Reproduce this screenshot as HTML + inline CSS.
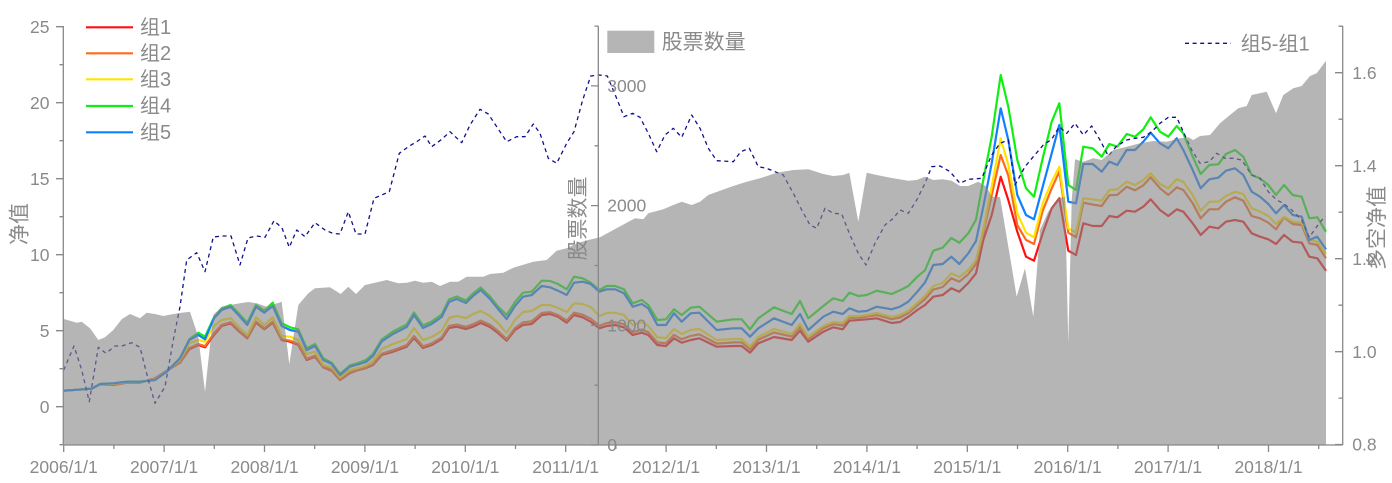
<!DOCTYPE html>
<html><head><meta charset="utf-8"><style>
html,body{margin:0;padding:0;background:#fff;}
svg{display:block;}
text{font-family:"Liberation Sans","Noto Sans CJK SC",sans-serif;fill:#8a8a8a;}
</style></head><body>
<svg width="1392" height="483" viewBox="0 0 1392 483" xmlns="http://www.w3.org/2000/svg">
<g fill="none" stroke-width="2.2" stroke-linejoin="round">
<polyline stroke="#ff1010" points="63.7,390.7 83.3,389.3 91.7,388.7 100,384.5 113.3,385 126.7,382.7 140,382.7 155,378.3 166.7,370.7 180,362.7 189.3,349.3 198.3,345 205,347.3 214,335 221.7,326 230.7,323.3 239.3,331.7 247.3,338.3 256,322.7 264.3,329.3 272.7,322.7 281.7,340 290,341.7 298.3,345 306.7,360 315,356.7 323.3,367.3 331.7,370.7 340,380 350,373 358,370 366,368 373,365 381.7,355 393,351.7 406.7,346.7 414,338 423,348 431.7,345 441.7,339 449,328 456.7,326.7 466,329 473,326.7 480.7,323 490,327 498,333 506.7,340.7 515,330 523,325 531.7,324 541.7,315 550,314 558,316.7 566.7,322.7 574,315 582.7,317.3 590.7,321.7 599.3,328.3 606.7,326 615,325 624,327.3 632.7,335 641.7,332.7 648.3,335 657.3,345 666,346 674,338.3 681.7,342.7 690.7,340 699.3,338.3 716.7,346.7 733.3,346 741.7,346 750,352.7 758.3,343.3 774,337 791.7,340 800,330.7 808.3,341.7 823.3,331.7 833.3,327.3 842.7,329.3 849.3,320.7 858.3,320 866.7,319.3 876.7,318.3 891.7,323 900,322 908.3,316.7 917.3,310 925,305 933.3,296.7 942.7,295 951.3,288.3 959.3,291.7 968.3,283 976,273.3 983.3,240 991.7,215 1000.7,176.7 1008.3,200 1017.3,231.7 1026,256.7 1034,260.7 1042.7,233.3 1051.7,208.3 1059.3,198.3 1068.3,250.7 1076,255 1083.3,223.3 1092.7,226 1101.7,226 1109.3,216 1117.3,217.3 1126.7,210.7 1135,211.7 1143.3,206.7 1150.7,199.3 1160,210 1168.3,216 1176.7,209.3 1183.3,211.7 1192.7,223.3 1200.7,235 1209.3,226.7 1218.3,228.3 1226,221.7 1235,220 1243.3,221.7 1251.7,233.3 1260,236.7 1268.3,239.3 1276,244 1284,235 1292.7,241.7 1301.7,242.7 1309.3,256.7 1317.3,258.3 1326,270.7"/>
<polyline stroke="#ff6a1a" points="63.7,390.7 83.3,389.3 91.7,388.7 100,384.5 113.3,384.8 126.7,382.6 140,382.6 155,378.5 166.7,370.8 180,362.2 189.3,348.1 198.3,344 205,346.2 214,333.2 221.7,324.8 230.7,322.3 239.3,330.8 247.3,337.6 256,321.6 264.3,328.4 272.7,321.6 281.7,339.2 290,340.7 298.3,344 306.7,358.8 315,355.7 323.3,366.8 331.7,370 340,379.5 350,372.4 358,369.6 366,367.5 373,364.2 381.7,353.8 393,350.2 406.7,345.2 414,336 423,346.4 431.7,343.4 441.7,337.4 449,326 456.7,324.6 466,326.8 473,324.2 480.7,320.6 490,324.8 498,331 506.7,339.2 515,328 523,322.4 531.7,321.4 541.7,313 550,312.2 558,315 566.7,320.6 574,312.7 582.7,314.7 590.7,318.7 599.3,325.8 606.7,323.1 615,322.2 624,324.2 632.7,332.3 641.7,329.5 648.3,332.2 657.3,342.5 666,343.2 674,334.9 681.7,339.3 690.7,335.9 699.3,334.3 716.7,343.6 733.3,342.4 741.7,342.3 750,349.4 758.3,339.8 774,332.5 791.7,336.6 800,326.8 808.3,339 823.3,328.3 833.3,324.1 842.7,325.5 849.3,317.8 858.3,317.6 866.7,316.6 876.7,315 891.7,319.2 900,317.5 908.3,313 917.3,305.4 925,299.1 933.3,289.6 942.7,287 951.3,278.3 959.3,281.7 968.3,274.2 976,264.1 983.3,233.1 991.7,195.2 1000.7,155 1008.3,175.5 1017.3,225 1026,239.9 1034,244 1042.7,210.8 1051.7,188.4 1059.3,171.7 1068.3,232.7 1076,237.3 1083.3,202.7 1092.7,204.6 1101.7,206 1109.3,195.2 1117.3,194.9 1126.7,186.7 1135,190.3 1143.3,185.3 1150.7,177.3 1160,188.3 1168.3,195 1176.7,187.3 1183.3,190 1192.7,203.3 1200.7,218.3 1209.3,209.3 1218.3,209.3 1226,201.7 1235,197.3 1243.3,200.7 1251.7,216 1260,218.3 1268.3,222.7 1276,229.3 1284,217.3 1292.7,224 1301.7,225 1309.3,243.3 1317.3,245 1326,258.3"/>
<polyline stroke="#ffe400" points="63.7,390.7 83.3,389.3 91.7,388.7 100,384.5 113.3,384 126.7,382 140,382 155,379.5 166.7,371.2 180,360 189.3,343.3 198.3,340 205,341.7 214,326 221.7,320 230.7,318.3 239.3,327.3 247.3,335 256,317.3 264.3,325 272.7,317.3 281.7,336 290,336.7 298.3,340 306.7,354 315,351.7 323.3,365 331.7,367.3 340,377.3 350,370 358,368 366,365.5 373,361 381.7,349 393,344 406.7,339 414,328 423,340 431.7,337 441.7,331 449,318 456.7,316 466,318 473,314 480.7,311 490,316 498,323 506.7,333 515,320 523,312 531.7,311 541.7,305 550,305 558,308 566.7,312 574,303.3 582.7,304 590.7,307 599.3,316 606.7,313 615,312.7 624,315 632.7,325 641.7,322 648.3,326 657.3,337.3 666,338 674,329 681.7,334 690.7,330 699.3,329 716.7,340 733.3,339 741.7,339 750,346.7 758.3,337 774,329 791.7,334 800,324 808.3,337 823.3,326 833.3,322 842.7,323 849.3,316 858.3,316 866.7,315 876.7,313 891.7,317 900,315 908.3,311 917.3,303 925,296 933.3,286 942.7,283 951.3,273.3 959.3,277 968.3,270 976,260 983.3,230 991.7,186.7 1000.7,138.3 1008.3,165 1017.3,213.3 1026,232.7 1034,237.3 1042.7,203.3 1051.7,181.7 1059.3,166.7 1068.3,228.3 1076,232.7 1083.3,198.3 1092.7,199.3 1101.7,200.7 1109.3,190 1117.3,189.3 1126.7,181.7 1135,185 1143.3,180 1150.7,173.3 1160,184 1168.3,188.3 1176.7,179.3 1183.3,181.7 1192.7,195 1200.7,210.7 1209.3,201.7 1218.3,201.7 1226,196 1235,191.7 1243.3,194 1251.7,208.3 1260,211.7 1268.3,216 1276,224 1284,216.7 1292.7,221.7 1301.7,222.7 1309.3,240 1317.3,241.7 1326,254"/>
<polyline stroke="#10f010" points="63.7,390.7 83.3,389.3 91.7,388.7 100,384 113.3,383.3 126.7,381.7 140,381.7 155,380 166.7,371.7 180,358.3 189.3,339.3 198.3,332.7 205,336.7 214,317.3 221.7,308.3 230.7,305 239.3,314 247.3,322.7 256,305 264.3,310.7 272.7,302.7 281.7,323.3 290,327.3 298.3,329.3 306.7,348.3 315,344 323.3,358.3 331.7,362.7 340,374 350,365.3 358,363 366,360 373,354 381.7,339.5 393,331.5 406.7,324.5 414,312.5 423,325.5 431.7,321.5 441.7,314.5 449,299.5 456.7,296.5 466,300.5 473,293.5 480.7,287.5 490,296.5 498,306.5 506.7,315 515,302 523,292.7 531.7,291.7 541.7,280.7 550,281 558,284 566.7,289.3 574,276.7 582.7,278.3 590.7,282.7 599.3,290 606.7,286 615,286 624,289.3 632.7,303.3 641.7,300 648.3,305 657.3,320 666,319.3 674,309.3 681.7,315 690.7,307.7 699.3,306.7 716.7,321.7 733.3,319.3 741.7,319.3 750,329.3 758.3,318.3 774,307.3 791.7,314 800,301 808.3,318.3 823.3,306 833.3,298.3 842.7,301 849.3,292.7 858.3,296 866.7,295 876.7,290.7 891.7,294 900,290.3 908.3,286 917.3,276.7 925,270.3 933.3,250.7 942.7,247.7 951.3,238 959.3,242.7 968.3,233.3 976,219.7 983.3,180 991.7,136.7 1000.7,75 1008.3,106.7 1017.3,160 1026,188.3 1034,196.7 1042.7,158.3 1051.7,121.7 1059.3,103.3 1068.3,185 1076,190 1083.3,146.7 1092.7,148.3 1101.7,156.7 1109.3,144 1117.3,146.7 1126.7,134 1135,136.7 1143.3,129.3 1150.7,117.3 1160,131.7 1168.3,136.7 1176.7,126 1183.3,133.3 1192.7,156.7 1200.7,174 1209.3,165 1218.3,164.3 1226,154 1235,150 1243.3,156.7 1251.7,175 1260,178.3 1268.3,185 1276,195 1284,185 1292.7,195 1301.7,196.7 1309.3,218.3 1317.3,217.3 1326,231.7"/>
<polyline stroke="#0f80ff" points="63.7,390.7 83.3,389.3 91.7,388.7 100,384 113.3,383.3 126.7,381.7 140,381.7 155,380 166.7,371.7 180,358.3 189.3,340 198.3,335 205,339.3 214,318.3 221.7,310 230.7,306.7 239.3,316 247.3,325 256,306.7 264.3,312.7 272.7,306 281.7,326 290,330 298.3,331.7 306.7,350 315,346 323.3,360 331.7,364 340,375 350,366.7 358,364.5 366,362 373,356 381.7,341.5 393,334 406.7,327 414,315 423,328 431.7,324 441.7,317 449,302 456.7,299 466,303 473,296 480.7,290 490,299 498,309 506.7,319 515,306 523,296.7 531.7,295 541.7,286 550,287.3 558,290.7 566.7,295 574,282.7 582.7,281.7 590.7,284 599.3,291.7 606.7,289.3 615,289.3 624,293.3 632.7,306.7 641.7,304 648.3,308.3 657.3,325 666,325 674,313.3 681.7,321.7 690.7,313.3 699.3,312.7 716.7,330 733.3,328.3 741.7,328.3 750,336.7 758.3,328.3 774,318.3 791.7,325 800,314 808.3,330 823.3,316.7 833.3,311.7 842.7,314 849.3,308.3 858.3,311.7 866.7,311 876.7,306.7 891.7,309.3 900,306.7 908.3,301.7 917.3,291.7 925,282.5 933.3,265 942.7,264 951.3,256.7 959.3,264 968.3,253.3 976,241 983.3,206.7 991.7,163.3 1000.7,108.3 1008.3,140 1017.3,195 1026,215 1034,219.3 1042.7,186.7 1051.7,153.3 1059.3,125 1068.3,201.7 1076,203.3 1083.3,164 1092.7,164 1101.7,171.7 1109.3,161.7 1117.3,165 1126.7,150 1135,150 1143.3,141.7 1150.7,132.7 1160,143.3 1168.3,148.3 1176.7,138.3 1183.3,150 1192.7,170 1200.7,188.3 1209.3,179.3 1218.3,177.7 1226,170.7 1235,168.3 1243.3,175 1251.7,191.7 1260,196.7 1268.3,204 1276,213.3 1284,205 1292.7,215 1301.7,216.7 1309.3,240 1317.3,236.7 1326,249.3"/>
<polyline stroke="#10108a" stroke-width="1.3" stroke-dasharray="4,3.6" points="63.7,370 74,346 81.7,370 89.3,401.7 98.3,347.3 106,353.3 115,346 121.7,346 131.7,342.7 140,347.3 148.3,380 155,403.3 165,386.7 173.3,340 180,306.7 186.7,260 196.7,252.7 205,271.7 213.3,237 222,236 231,236 240,265 248,238 256.7,236 265,237.3 274,220.7 282,228 289.3,247.3 296.7,230 305,236.7 315,222.7 325,230 332.7,233.3 340,234 348.3,211.7 356,234 365,234 374,198.3 381.7,195 389.3,191.7 399.3,153.3 408.3,146.7 416.7,141.7 425,136 431.7,146.7 441.7,139.3 450,131.7 461.7,142.7 470,125 480,109.3 488.3,114 496.7,126.7 506.7,141.7 516.7,136.7 525,136.7 533.3,124 540,133.3 548.3,158.3 556.7,163.3 566.7,143.3 574,131.7 582.7,100 590.7,76 599.3,75 607.3,76 616,96.7 624,116.7 632.7,113.3 640,117.3 648.3,133.3 656.7,151.7 665,135 673.3,128.3 681.7,137.3 691.7,115 700,128.3 708.3,148.3 716.7,160.7 733.3,161.7 740.7,151.7 749.3,148.3 758.3,166.7 766.7,168.3 775,171.7 783.3,175 793.3,193.3 801.7,210 810,225 816.7,228.3 825,208.3 833.3,213.3 841.7,214 850,235 858.3,253.3 866,265 875,243.3 885,225 893.3,218.3 900,210 908.3,213.3 916.7,200 925,183.3 931.7,166.7 940,166 950,171.7 960,183.3 968.3,179.3 981.7,178.3 991.7,155 1000,143.3 1008.3,140 1015,185 1025,166.7 1033.3,156.7 1043.3,145 1051.7,139.3 1059.3,126.7 1066.7,133.3 1075,123.3 1083.3,135 1091.7,126 1100,140 1108.3,156 1116.7,146 1126.7,140 1135,138.3 1143.3,137.3 1151.7,131.7 1160,123.3 1168.3,117.3 1176.7,117.3 1181.7,128.3 1191.7,150 1200,163.3 1209.3,161.7 1216.7,153.3 1225,158.3 1233.3,158.3 1241.7,160 1251.7,175 1260,178.3 1268.3,191.7 1276.7,200 1283.3,203.3 1291.7,210 1301.7,220 1309.3,237.3 1316.7,226.7 1325,216"/>
</g>
<!-- middle axis (under overlay) -->
<g stroke="#888" stroke-width="1.3" fill="none">
<line x1="598.3" y1="26" x2="598.3" y2="445"/>
<path d="M591 445H598.3M591 325.3H598.3M591 205.6H598.3M591 85.9H598.3M594.5 385.2H598.3M594.5 265.5H598.3M594.5 145.8H598.3M594.5 26.1H598.3"/>
</g>
<g font-size="17.5">
<text x="607.3" y="92">3000</text>
<text x="607.3" y="211.7">2000</text>
<text x="607.3" y="331.5">1000</text>
<text x="607.3" y="451">0</text>
</g>
<text font-size="21" transform="translate(577.5,218.5) rotate(-90)" text-anchor="middle" y="7.5">股票数量</text>
<!-- stock count area overlay -->
<polygon fill="#888888" fill-opacity="0.62" points="63.7,445 63.7,319 70,320.7 76.7,322.7 81.7,321.7 90,328.3 98.3,340 105,337.3 113.3,330 121.7,319.3 130,314 140,318.3 146.7,312.7 155,314 163.3,316 173.3,314 181.7,312.7 190,311.7 198.3,336.7 205,391.7 213.3,315 221.7,306.7 230,305 240,303.3 248,302 256.7,303.3 266.7,306.7 281.7,301.7 289.3,364 298.3,305 308.3,293.3 315,288.3 330,287.3 340.7,294 348.3,286.7 356,294 365,285 375,282.7 386.7,280 398.3,283.3 406.7,282.7 415,280.7 423.3,282.7 431.7,281.7 440,286 450,281.7 458.3,281.7 466.7,276.7 483.3,276.7 490,274 503.3,272.7 513.3,267.7 533.3,261.7 546.7,260 556.7,250.7 566.7,248.3 576.7,243.3 588.3,240 600,237.3 613.3,230 626.7,222.7 635,218.3 643.3,219.3 648.3,213.3 663.3,209.3 673.3,205 681.7,201.7 691.7,205 700,201.7 708.3,195 720,190.7 733.3,186 746.7,181.7 760,178.3 776.7,172.7 793.3,170 808.3,169.3 823.3,174 833.3,176 843.3,175 849.3,172.7 858.3,221.7 866.7,172.7 876.7,175 893.3,178.3 908.3,180.7 916.7,180 925,176.7 933.3,180 942.7,179.3 951.7,180.7 960,186 968.3,186 978.3,181.7 986.7,186.7 991.7,196.7 1000,197 1016.7,296.7 1025,268.3 1033.3,316.7 1040,230 1048,212 1058.3,198 1065,197 1068.3,343.3 1071.7,200 1075,159.3 1083.3,161.7 1093.3,158.3 1101.7,160 1113.3,150 1126.7,146.7 1140,143.3 1153.3,141 1166.7,141.7 1180,138.3 1188.3,137.3 1193.3,140 1200,136 1210,135 1220,123.3 1230,115 1238.3,108.3 1246.7,106 1251.7,95 1266.7,91.7 1276,113.3 1283.3,95 1293.3,88.3 1301.7,86 1310,76 1316.7,73.3 1326,60.7 1326,445"/>
<!-- axes -->
<g stroke="#888" stroke-width="1.3" fill="none">
<line x1="63.3" y1="26" x2="63.3" y2="445"/>
<line x1="63.3" y1="445" x2="1342.7" y2="445"/>
<line x1="1342.7" y1="26" x2="1342.7" y2="445"/>
<path d="M56 406.7H63.3M56 330.7H63.3M56 254.7H63.3M56 178.7H63.3M56 102.7H63.3M56 26.7H63.3M59.5 444.7H63.3M59.5 368.7H63.3M59.5 292.7H63.3M59.5 216.7H63.3M59.5 140.7H63.3M59.5 64.7H63.3"/>
<path d="M1335 444.5H1342.7M1335 351.7H1342.7M1335 258.7H1342.7M1335 165.7H1342.7M1335 72.7H1342.7M1338.5 398.1H1342.7M1338.5 305.2H1342.7M1338.5 212.2H1342.7M1338.5 119.2H1342.7M1338.5 26.2H1342.7"/>
<path d="M63.7 445V452M164.1 445V452M264.5 445V452M364.9 445V452M465.3 445V452M565.7 445V452M666.1 445V452M766.5 445V452M866.9 445V452M967.3 445V452M1067.7 445V452M1168.1 445V452M1268.5 445V452"/>
<path d="M113.9 445V449M214.3 445V449M314.7 445V449M415.1 445V449M515.5 445V449M615.9 445V449M716.3 445V449M816.7 445V449M917.1 445V449M1017.5 445V449M1117.9 445V449M1218.3 445V449M1318.7 445V449"/>
</g>
<g font-size="17.5" text-anchor="end">
<text x="49.5" y="32.8">25</text>
<text x="49.5" y="108.8">20</text>
<text x="49.5" y="184.8">15</text>
<text x="49.5" y="260.8">10</text>
<text x="49.5" y="336.8">5</text>
<text x="49.5" y="412.8">0</text>
</g>
<g font-size="17.5">
<text x="1352.3" y="78.8">1.6</text>
<text x="1352.3" y="171.8">1.4</text>
<text x="1352.3" y="264.8">1.2</text>
<text x="1352.3" y="357.8">1.0</text>
<text x="1352.3" y="450.5">0.8</text>
</g>
<g font-size="17.5" text-anchor="middle">
<text x="63.7" y="472.8">2006/1/1</text>
<text x="164.1" y="472.8">2007/1/1</text>
<text x="264.5" y="472.8">2008/1/1</text>
<text x="364.9" y="472.8">2009/1/1</text>
<text x="465.3" y="472.8">2010/1/1</text>
<text x="565.7" y="472.8">2011/1/1</text>
<text x="666.1" y="472.8">2012/1/1</text>
<text x="766.5" y="472.8">2013/1/1</text>
<text x="866.9" y="472.8">2014/1/1</text>
<text x="967.3" y="472.8">2015/1/1</text>
<text x="1067.7" y="472.8">2016/1/1</text>
<text x="1168.1" y="472.8">2017/1/1</text>
<text x="1268.5" y="472.8">2018/1/1</text>
</g>
<text font-size="21" transform="translate(19,224) rotate(-90)" text-anchor="middle" y="7.5">净值</text>
<text font-size="21" transform="translate(1376.7,228) rotate(-90)" text-anchor="middle" y="7.5">多空净值</text>
<!-- legends -->
<g stroke-width="2.2">
<line x1="86" y1="27.3" x2="133" y2="27.3" stroke="#ff1010"/>
<line x1="86" y1="53.3" x2="133" y2="53.3" stroke="#ff6a1a"/>
<line x1="86" y1="79.3" x2="133" y2="79.3" stroke="#ffe400"/>
<line x1="86" y1="106" x2="133" y2="106" stroke="#10f010"/>
<line x1="86" y1="132.3" x2="133" y2="132.3" stroke="#0f80ff"/>
</g>
<g font-size="20">
<text x="140" y="34">组1</text>
<text x="140" y="60">组2</text>
<text x="140" y="86">组3</text>
<text x="140" y="112.7">组4</text>
<text x="140" y="139">组5</text>
</g>
<rect x="607.3" y="30.7" width="47" height="22.3" fill="#b5b5b5"/>
<text x="661.7" y="49" font-size="21">股票数量</text>
<line x1="1185" y1="43.3" x2="1231" y2="43.3" stroke="#10108a" stroke-width="1.3" stroke-dasharray="4,3.6"/>
<text x="1240.7" y="50.3" font-size="20">组5-组1</text>
</svg>
</body></html>
